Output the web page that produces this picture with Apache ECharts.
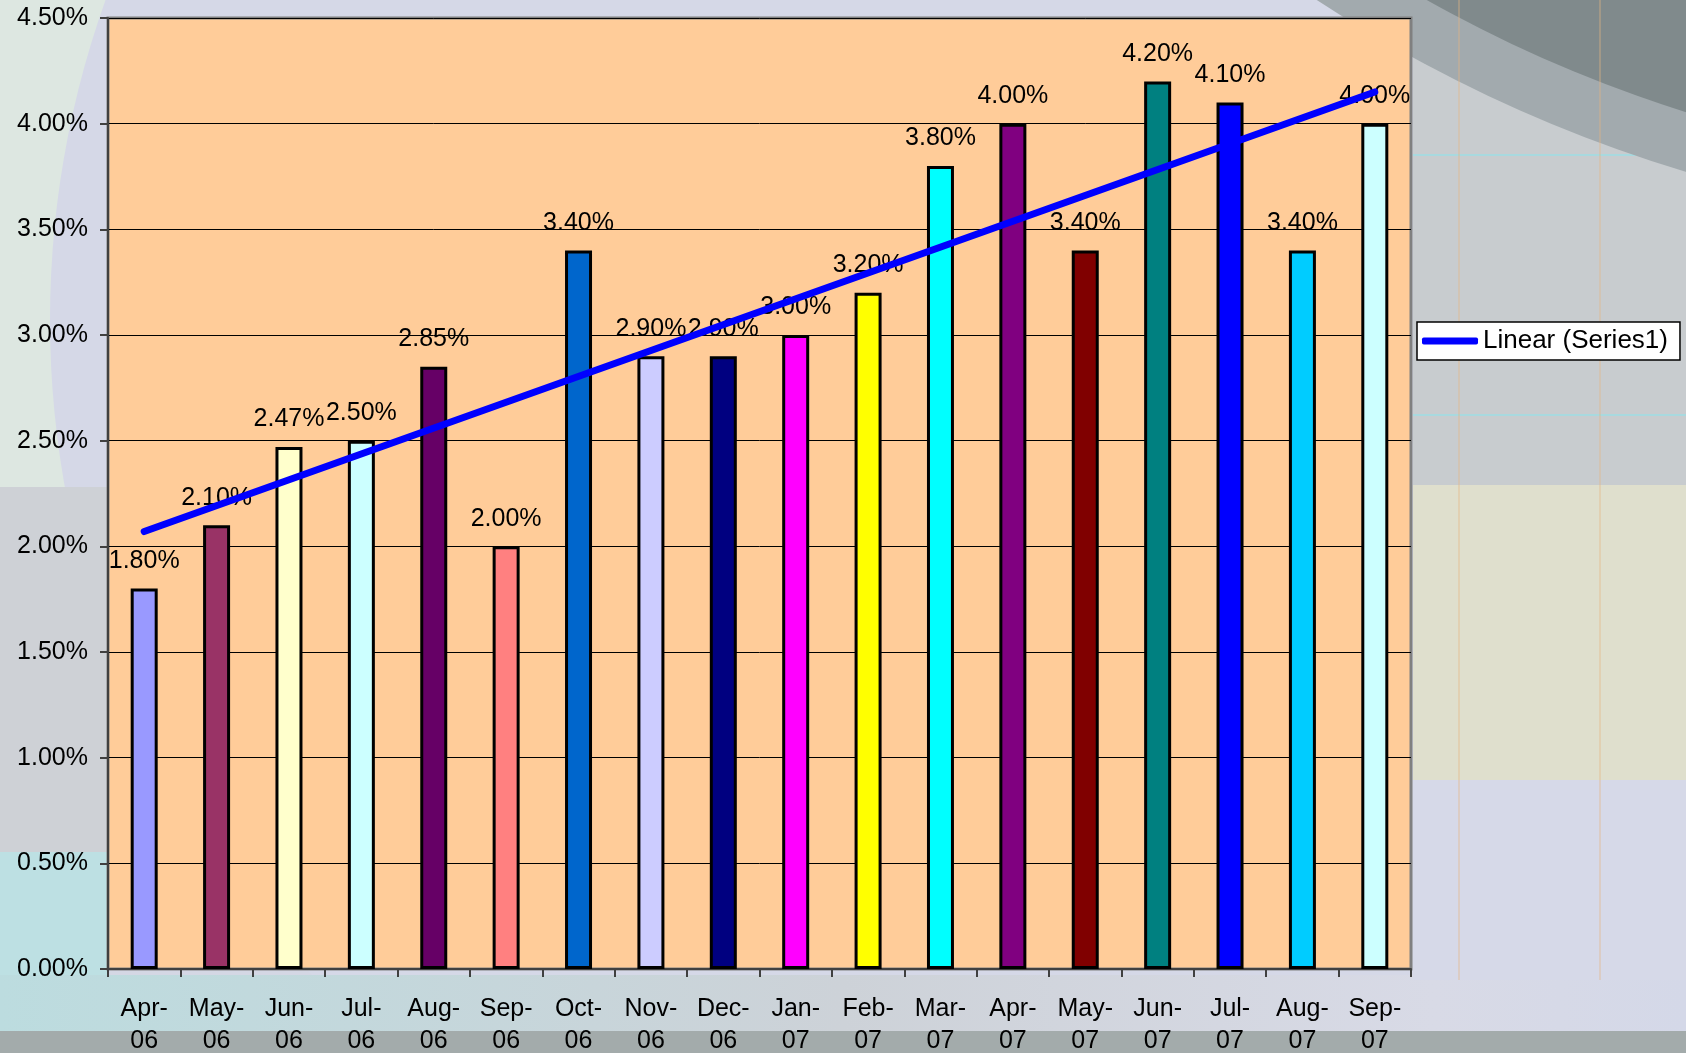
<!DOCTYPE html>
<html lang="en">
<head>
    <meta charset="UTF-8">
    <title>Rate trend</title>
    <style>
        html, body { margin: 0; padding: 0; }
        #main { width: 1686px; height: 1053px; }
    </style>
</head>
<body>
<div id="main"></div>
<script src="https://cdn.jsdelivr.net/npm/echarts@6/dist/echarts.min.js"></script>
<script>
    // data
    var months = ['Apr','May','Jun','Jul','Aug','Sep','Oct','Nov','Dec','Jan','Feb','Mar','Apr','May','Jun','Jul','Aug','Sep'];
    var years = ['06','06','06','06','06','06','06','06','06','07','07','07','07','07','07','07','07','07'];
    var rates = [1.80, 2.10, 2.47, 2.50, 2.85, 2.00, 3.40, 2.90, 2.90, 3.00, 3.20, 3.80, 4.00, 3.40, 4.20, 4.10, 3.40, 4.00];
    var barColors = ['#9999FF','#993366','#FFFFCC','#CCFFFF','#660066','#FF8080','#0066CC','#CCCCFF','#000080',
                     '#FF00FF','#FFFF00','#00FFFF','#800080','#800000','#008080','#0000FF','#00CCFF','#CCFFFF'];
    // trend line ends (first and last month)
    var trendEnds = [2.07, 4.15];
    var yTicks = [0, 4.5, 0.5];

    var font = '"Liberation Sans", Arial, sans-serif';

    var categories = [];
    var barData = [];
    var trendData = [];
    for (var i = 0; i < months.length; i++) {
        categories.push(months[i] + '-\n' + years[i]);
        barData.push({ value: rates[i], itemStyle: { color: barColors[i] } });
        trendData.push(null);
    }
    trendData[0] = trendEnds[0];
    trendData[trendData.length - 1] = trendEnds[1];

    function pct(v) {
        return Number(v).toFixed(2) + '%';
    }

    // slide background, rough shapes
    function bgRect(x, y, w, h, fill, z) {
        return { type: 'rect', z: z, silent: true, shape: { x: x, y: y, width: w, height: h }, style: { fill: fill } };
    }
    function bgCircle(cx, cy, r, fill, z) {
        return { type: 'circle', z: z, silent: true, shape: { cx: cx, cy: cy, r: r }, style: { fill: fill } };
    }
    function bgLine(x1, y1, x2, y2, color, z) {
        return { type: 'line', z: z, silent: true, shape: { x1: x1, y1: y1, x2: x2, y2: y2 }, style: { stroke: color, lineWidth: 2 } };
    }

    var myChart = echarts.init(document.getElementById('main'));
    var option = {
        animation: false,
        backgroundColor: '#d4d7e4',
        graphic: [
            bgRect(0, 0, 120, 490, '#dde7e1', -110),
            bgCircle(1000, 320, 950, '#d5d8e7', -109),
            bgRect(0, 487, 107, 365, '#ced1d6', -108),
            bgRect(0, 852, 107, 180, '#bde0e3', -108),
            {
                type: 'rect', z: -107, silent: true,
                shape: { x: 0, y: 975, width: 1686, height: 58 },
                style: {
                    fill: {
                        type: 'linear', x: 0, y: 0, x2: 1, y2: 0,
                        colorStops: [
                            { offset: 0, color: '#bcdcdf' },
                            { offset: 0.5, color: '#cdd2d8' },
                            { offset: 0.85, color: '#d8dae6' },
                            { offset: 1, color: '#d4d8e8' }
                        ]
                    }
                }
            },
            bgRect(1413, 0, 273, 485, '#c8cccf', -106),
            bgRect(1413, 485, 273, 295, '#dfdfcd', -106),
            bgRect(1413, 780, 273, 200, '#d6d9e8', -106),
            bgRect(1350, 0, 70, 18, '#b6bcc1', -106),
            bgLine(1413, 155, 1686, 155, 'rgba(160,220,226,0.8)', -105.5),
            bgLine(1413, 415, 1686, 415, 'rgba(160,220,226,0.8)', -105.5),
            bgCircle(2100, -1200, 1433, '#a2aaae', -105),
            {
                type: 'circle', z: -104, silent: true,
                shape: { cx: 2100, cy: -1200, r: 1376 },
                style: {
                    fill: {
                        type: 'linear', x: 0, y: 0, x2: 1, y2: 0,
                        colorStops: [
                            { offset: 0.4, color: '#808a8c' },
                            { offset: 0.6, color: '#5f6b67' }
                        ]
                    }
                }
            },
            bgLine(1459, 0, 1459, 980, 'rgba(230,180,130,0.35)', -103.5),
            bgLine(1600, 0, 1600, 980, 'rgba(230,180,130,0.35)', -103.5),
            bgRect(0, 1031, 1686, 22, '#a3abab', -103)
        ],
        grid: {
            left: 108,
            right: 275,
            top: 18,
            bottom: 84,
            show: true,
            backgroundColor: '#FFCC99',
            borderColor: '#808080',
            borderWidth: 3,
            containLabel: false,
            outerBoundsMode: 'none'
        },
        legend: {
            data: ['Linear (Series1)'],
            left: 1417,
            top: 322,
            orient: 'vertical',
            backgroundColor: '#ffffff',
            borderColor: '#000000',
            borderWidth: 1.5,
            borderRadius: 0,
            padding: [6, 12, 6, 5],
            itemWidth: 56,
            itemHeight: 7,
            icon: 'roundRect',
            textStyle: { fontFamily: font, fontSize: 26, color: '#000' }
        },
        xAxis: {
            type: 'category',
            data: categories,
            axisLine: { show: true, lineStyle: { color: '#404040', width: 2 } },
            axisTick: { show: true, alignWithLabel: false, length: 8, lineStyle: { color: '#404040', width: 2 } },
            axisLabel: {
                interval: 0,
                margin: 24,
                fontFamily: font,
                fontSize: 25,
                lineHeight: 32,
                color: '#000'
            },
            splitLine: { show: false }
        },
        yAxis: {
            type: 'value',
            min: yTicks[0],
            max: yTicks[1],
            interval: yTicks[2],
            axisLine: { show: true, lineStyle: { color: '#404040', width: 2 } },
            axisTick: { show: true, length: 8, lineStyle: { color: '#404040', width: 2 } },
            axisLabel: {
                margin: 20,
                fontFamily: font,
                fontSize: 25,
                color: '#000',
                formatter: pct
            },
            splitLine: { show: true, lineStyle: { color: '#000', width: 1 } }
        },
        series: [
            {
                name: 'Series1',
                type: 'bar',
                data: barData,
                barWidth: 27,
                itemStyle: { borderColor: '#000', borderWidth: 3 },
                label: {
                    show: true,
                    position: 'top',
                    distance: 15,
                    fontFamily: font,
                    fontSize: 25,
                    color: '#000',
                    formatter: function (p) { return pct(p.value); }
                }
            },
            {
                name: 'Linear (Series1)',
                type: 'line',
                data: trendData,
                connectNulls: true,
                showSymbol: false,
                symbol: 'none',
                color: '#0000FF',
                lineStyle: { color: '#0000FF', width: 7, cap: 'round' },
                z: 3
            }
        ]
    };
    myChart.setOption(option);
</script>
</body>
</html>
